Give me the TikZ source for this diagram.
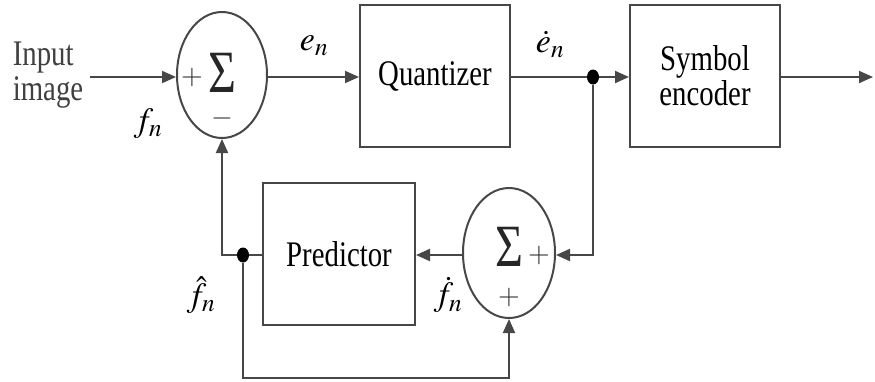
\documentclass[tikz,border=0pt]{standalone}
\usepackage{mathptmx}
\usepackage{fontspec}
\setmainfont[FakeStretch=0.8]{Liberation Serif}
\usepackage{tikz}
\usetikzlibrary{arrows.meta,positioning,shapes.geometric}
\colorlet{wire}{black!72}

\tikzset{
  blockbox/.style={draw=wire, line width=2pt, minimum width=150pt, minimum height=142pt,
    align=center, font=\fontsize{36}{35}\selectfont},
  sumnode/.style={draw=wire, line width=2pt, ellipse, minimum width=90pt, minimum height=126pt},
  sig/.style={->, draw=wire, line width=2pt, >={Triangle[length=14pt,width=12pt]}},
  joint/.style={ellipse, fill=black, inner sep=0pt, minimum width=12pt, minimum height=15pt},
  lbl/.style={font=\fontsize{34}{34}\selectfont, inner sep=0pt},
  sign/.style={font=\fontsize{28}{28}\selectfont, text=black!80, inner sep=0pt},
  sigma/.style={font=\fontsize{60}{60}\selectfont, text=black!85, inner sep=0pt}
}

\begin{document}
\begin{tikzpicture}[x=1pt, y=-1pt]
  \useasboundingbox (0,0) rectangle (875,381);
  % Forward path
  \node[sumnode] (sumA) at (222,75) {};
  \node[sigma] (sgA) at (222,73) {Σ};
  \node[blockbox] (quant) at (435,76) {Quantizer};
  \node[blockbox] (enc) at (705,76) {Symbol\\encoder};
  \node[align=left, font=\fontsize{36}{35}\selectfont, text=black!75] (inp) at (48,75) {Input\\image};
  \coordinate (src) at (90,77);
  \coordinate (out) at (873,77);
  \node[joint] (jA) at (593,77) {};
  % Feedback path
  \node[blockbox, minimum width=152pt] (pred) at (339,254) {Predictor};
  \node[sumnode, minimum width=92pt, minimum height=130pt] (sumB) at (509,253) {};
  \node[sigma] (sgB) at (509,247) {Σ};
  \node[joint] (jB) at (243,255) {};
  % Signs
  \node[sign] (pA) at (192,78) {$+$};
  \node[sign] (mA) at (222,118) {$-$};
  \node[sign] (pB) at (539,255) {$+$};
  \node[sign] (qB) at (509,298) {$+$};
  % Connectors
  \draw[sig] (src) -- (sumA.west |- src);
  \draw[sig] (sumA.east |- src) -- (quant.west |- src);
  \draw[draw=wire, line width=2pt] (quant.east |- src) -- (jA);
  \draw[sig] (jA) -- (enc.west |- src);
  \draw[sig] (enc.east |- src) -- (out);
  \draw[sig] (jA) |- (sumB.east |- jB);
  \draw[sig] (sumB.west |- jB) -- (pred.east |- jB);
  \draw[draw=wire, line width=2pt] (pred.west |- jB) -- (jB);
  \draw[sig] (jB) -| (sumA.south);
  \draw[sig] (jB) -- ++(0,123) -| (sumB.south);
  % Labels
  \node[lbl] (en) at (314,46) {$e_n$};
  \node[lbl] (qen) at (550,44) {$\dot{e}_n$};
  \node[lbl] (fn) at (148,124) {$f_n$};
  \node[lbl] (hfn) at (201,295) {$\hat{f}_n$};
  \node[lbl] (dfn) at (448,295) {$\dot{f}_n$};
\end{tikzpicture}
\end{document}
